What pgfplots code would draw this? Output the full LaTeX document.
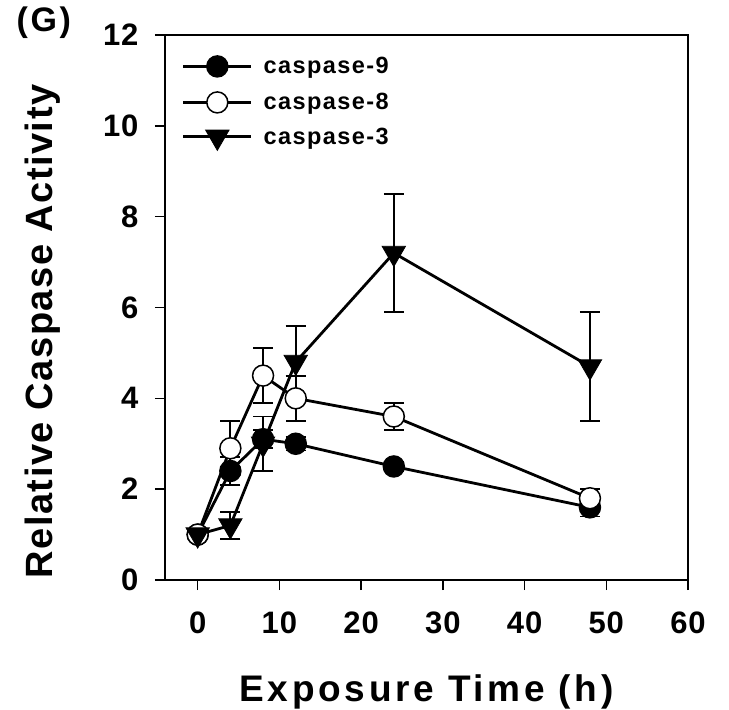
\documentclass[border=0pt]{standalone}
\usepackage{fontspec}
\setmainfont{Liberation Sans}
\usepackage{pgfplots}
\pgfplotsset{compat=1.18}
\newfontfamily\tickf{Liberation Sans}[LetterSpace=3]
\newfontfamily\ylf{Liberation Sans}[LetterSpace=4]
\newfontfamily\xlf{Liberation Sans}[LetterSpace=10]
\newfontfamily\legf{Liberation Sans}[LetterSpace=6]
\newfontfamily\gf{Liberation Sans}[LetterSpace=8]
\pgfplotsset{myerr/.style={error bars/y dir=both, error bars/y explicit,
  error bars/error bar style={line width=1.8pt, black},
  error bars/error mark options={rotate=90, mark size=10pt, line width=1.8pt, black}}}
\begin{document}
\begin{tikzpicture}
\begin{axis}[
  name=ax, at={(0,0)}, anchor=south west,
  scale only axis, width=523pt, height=545pt,
  xmin=-4, xmax=60, ymin=0, ymax=12,
  xtick={0,10,...,60}, ytick={0,2,...,12},
  tick align=outside, xtick pos=bottom, ytick pos=left,
  major tick length=10pt,
  tick style={line width=1.5pt, black},
  axis line style={line width=1.5pt},
  /pgf/number format/assume math mode=true,
  ticklabel style={font=\fontsize{31}{31}\selectfont\bfseries\tickf},
  xticklabel style={yshift=-18pt},
  yticklabel style={xshift=-13pt},
  xlabel={\fontsize{37}{37}\selectfont\bfseries\xlf Exposure Time (h)},
  ylabel={\fontsize{38}{38}\selectfont\bfseries\ylf Relative Caspase Activity},
  xlabel style={yshift=-34pt},
  ylabel style={yshift=36pt, xshift=-24pt},
  legend style={at={(rel axis cs:0.032,0.962)}, anchor=north west, draw=none, fill=none,
    inner sep=0pt,
    font=\fontsize{23.5}{23.5}\selectfont\bfseries\legf, row sep=15pt,
    nodes={inner xsep=11pt, inner ysep=0pt}},
  legend cell align=left,
  legend image code/.code={\draw[#1, mark repeat=2, mark phase=2] plot coordinates {(0pt,0pt) (34pt,0pt) (68pt,0pt)};},
]
\addplot[myerr, black, line width=2.8pt, mark=*, mark size=10.5pt, mark options={fill=black, draw=black, line width=1.5pt}]
  coordinates {(0,1.0) +- (0,0.1) (4,2.4) +- (0,0.3) (8,3.1) +- (0,0.2) (12,3.0) +- (0,0.15) (24,2.5) +- (0,0.1) (48,1.6) +- (0,0.2)};
\addlegendentry{caspase-9}
\addplot[myerr, black, line width=2.8pt, mark=*, mark size=10.5pt, mark options={fill=white, draw=black, line width=1.5pt}]
  coordinates {(0,1.0) +- (0,0.1) (4,2.9) +- (0,0.6) (8,4.5) +- (0,0.6) (12,4.0) +- (0,0.5) (24,3.6) +- (0,0.3) (48,1.8) +- (0,0.2)};
\addlegendentry{caspase-8}
\addplot[myerr, black, line width=2.8pt, mark=triangle*, mark size=13.5pt, mark options={rotate=180, fill=black, draw=black, line width=0.8pt}]
  coordinates {(0,1.0) +- (0,0.1) (4,1.2) +- (0,0.3) (8,3.0) +- (0,0.6) (12,4.8) +- (0,0.8) (24,7.2) +- (0,1.3) (48,4.7) +- (0,1.2)};
\addlegendentry{caspase-3}
\end{axis}
\node[anchor=west, font=\fontsize{34}{34}\selectfont\bfseries\gf] at (-152pt,557pt) {(G)};
\pgfresetboundingbox
\path[use as bounding box] (-165pt,-130pt) rectangle (564pt,580pt);
\end{tikzpicture}
\end{document}
